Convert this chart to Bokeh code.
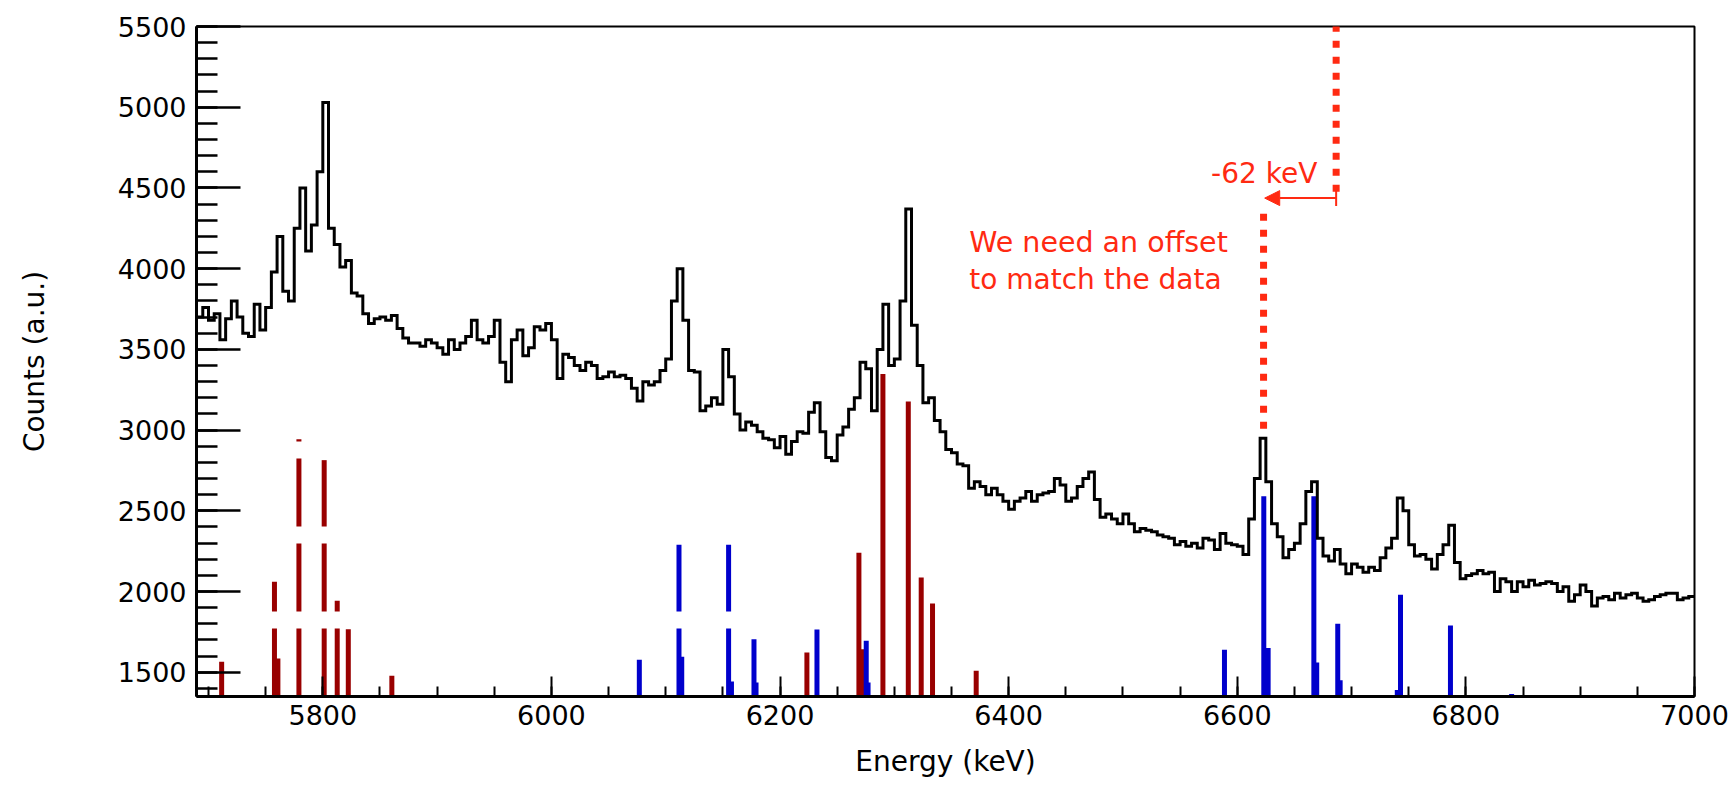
from bokeh.plotting import figure
from bokeh.models import (ColumnDataSource, SingleIntervalTicker, Arrow,
                          NormalHead, TeeHead, Label)
from bokeh.embed import file_html
from bokeh.resources import INLINE

# ---------------- data ----------------
BIN_START = 5690      # keV, first bin edge
BIN_WIDTH = 5         # keV
counts = [
    3700, 3760, 3680, 3720, 3560, 3690, 3800, 3700, 3600, 3580,
    3780, 3620, 3760, 3980, 4200, 3860, 3800, 4250, 4500, 4110,
    4270, 4600, 5030, 4250, 4150, 4010, 4050, 3850, 3830, 3720,
    3660, 3690, 3700, 3680, 3710, 3630, 3570, 3540, 3540, 3520,
    3560, 3540, 3510, 3470, 3560, 3500, 3540, 3580, 3680, 3560,
    3540, 3580, 3680, 3420, 3300, 3560, 3620, 3460, 3510, 3640,
    3620, 3660, 3560, 3320, 3470, 3450, 3400,
    3370, 3420, 3400, 3320, 3330, 3360, 3330, 3340, 3320, 3260,
    3180, 3300, 3280, 3300, 3370, 3440, 3800, 4000, 3680, 3370,
    3360, 3120, 3150, 3200, 3160, 3500, 3330, 3100, 3000, 3050,
    3030, 2990, 2950, 2940, 2890, 2960, 2850, 2930, 2990, 2980,
    3110, 3170, 2990, 2830, 2810, 2970, 3020, 3130, 3200, 3420,
    3380, 3120, 3500, 3780, 3400, 3440, 3800, 4370, 3650, 3400,
    3170, 3200, 3060, 2990,
    2880, 2860, 2790, 2780, 2640, 2680, 2650, 2600, 2640, 2600,
    2560, 2510, 2560, 2580, 2620, 2560, 2600, 2610, 2620, 2700,
    2660, 2560, 2580, 2650, 2700, 2740, 2570, 2460, 2480, 2450,
    2420, 2480, 2420, 2370, 2390, 2380, 2370, 2350, 2340, 2330,
    2290, 2310, 2280, 2300, 2270, 2330, 2320, 2260, 2360, 2300,
    2290, 2280, 2230, 2450, 2700, 2950, 2680, 2420, 2340, 2210,
    2260, 2300, 2420, 2620, 2680, 2330,
    2220, 2190, 2260, 2170, 2110, 2170, 2150, 2120, 2150, 2130,
    2210, 2270, 2330, 2580, 2500, 2290, 2220, 2230, 2200, 2140,
    2230, 2290, 2410, 2180, 2080, 2100, 2110, 2130, 2110, 2120,
    2000, 2080, 2060, 2000, 2060, 2030, 2070, 2040, 2050, 2060,
    2050, 2000, 2030, 1940, 1980, 2040, 2000, 1910, 1960, 1970,
    1950, 1990, 1960, 1980, 1990, 1960, 1940, 1950, 1970, 1980,
    1990, 1990, 1950, 1960, 1970,
]

# simulated lines (red: one nucleus, blue: the other)
red_dashed_energy = [5711.5, 5757.7, 5760.7, 5779.1, 5801.2, 5812.6, 5822.3, 5860.4]
red_dashed_height = [1565, 2060, 1585, 2944, 2814, 1943, 1767, 1478]
red_solid_energy = [6223.5, 6269.0, 6271.5, 6290.0, 6312.2, 6323.5, 6333.4, 6371.6]
red_solid_height = [1623, 2240, 1643, 3347, 3177, 2087, 1926, 1509]
blue_dashed_energy = [6111.6, 6155.0]
blue_dashed_height = [2290, 2290]
blue_solid_energy = [6076.9, 6114.0, 6157.5, 6177.2, 6179.0, 6232.3, 6275.4, 6277.0,
                     6588.8, 6623.2, 6627.0, 6667.0, 6669.5, 6687.9, 6690.0, 6742.8,
                     6740.0, 6786.5, 6840.0]
blue_solid_height = [1577, 1596, 1443, 1705, 1437, 1765, 1695, 1437,
                     1640, 2590, 1650, 2590, 1560, 1800, 1450, 1980,
                     1390, 1790, 1365]

x_tick_labels = ["5800", "6000", "6200", "6400", "6600", "6800", "7000"]
y_tick_labels = ["1500", "2000", "2500", "3000", "3500", "4000", "4500", "5000", "5500"]

X_MIN, X_MAX = 5689.5, 7000
Y_MIN, Y_MAX = 1350, 5500

SIM_ENERGY = 6686.5      # simulated line position
DATA_ENERGY = 6623.0     # measured peak position
OFFSET_LABEL = "-62 keV"

FONT = "DejaVu Sans"
RED_TXT = "#FF2A12"
RED_BAR = "#990000"
BLUE_BAR = "#0000CC"

# ---------------- figure ----------------
p = figure(width=1731, height=785, x_range=(X_MIN, X_MAX), y_range=(Y_MIN, Y_MAX),
           output_backend="svg", toolbar_location=None,
           min_border_left=196, min_border_right=37, min_border_top=26,
           min_border_bottom=89, background_fill_color="white",
           border_fill_color="white")
p.xgrid.visible = False
p.ygrid.visible = False
p.outline_line_color = "black"
p.outline_line_width = 2

# axes
xa = p.xaxis[0]
xa.ticker = SingleIntervalTicker(interval=200, num_minor_ticks=4)
xa.major_label_overrides = {int(t): t for t in x_tick_labels}
xa.axis_line_width = 3
xa.axis_line_color = "black"
xa.major_tick_in = 20
xa.major_tick_out = 0
xa.minor_tick_in = 10
xa.minor_tick_out = 0
xa.major_tick_line_width = 2
xa.minor_tick_line_width = 2
xa.major_tick_line_color = "black"
xa.minor_tick_line_color = "black"
xa.major_label_text_font = FONT
xa.major_label_text_font_size = "27px"
xa.major_label_text_color = "black"
xa.major_label_standoff = 8
xa.axis_label = "Energy (keV)"
xa.axis_label_text_font = FONT
xa.axis_label_text_font_size = "28px"
xa.axis_label_text_font_style = "normal"
xa.axis_label_text_color = "black"
xa.axis_label_standoff = 17

ya = p.yaxis[0]
ya.ticker = SingleIntervalTicker(interval=500, num_minor_ticks=5)
ya.major_label_overrides = {int(t): t for t in y_tick_labels}
ya.axis_line_width = 3
ya.axis_line_color = "black"
ya.major_tick_in = 44
ya.major_tick_out = 0
ya.minor_tick_in = 21
ya.minor_tick_out = 0
ya.major_tick_line_width = 2.5
ya.minor_tick_line_width = 2.5
ya.major_tick_line_color = "black"
ya.minor_tick_line_color = "black"
ya.major_label_text_font = FONT
ya.major_label_text_font_size = "27px"
ya.major_label_text_color = "black"
ya.major_label_standoff = 10
ya.axis_label = "Counts (a.u.)"
ya.axis_label_text_font = FONT
ya.axis_label_text_font_size = "28px"
ya.axis_label_text_font_style = "normal"
ya.axis_label_text_color = "black"
ya.axis_label_standoff = 64

# simulated lines as vertical bars from the bottom of the frame
def bars(energy, height, color, dash):
    src = ColumnDataSource(dict(x=energy, y0=[Y_MIN] * len(energy), y1=height))
    p.segment(x0="x", y0="y0", x1="x", y1="y1", source=src, line_color=color,
              line_width=5, line_cap="butt", line_dash=dash)

bars(red_dashed_energy, red_dashed_height, RED_BAR, "68 17")
bars(red_solid_energy, red_solid_height, RED_BAR, "solid")
bars(blue_dashed_energy, blue_dashed_height, BLUE_BAR, "68 17")
bars(blue_solid_energy, blue_solid_height, BLUE_BAR, "solid")

# measured spectrum as a histogram
edges = [BIN_START + BIN_WIDTH * i for i in range(len(counts) + 1)]
p.step(x=edges, y=counts + [counts[-1]], mode="after", line_color="black",
       line_width=3, line_join="miter")

# annotation: dotted lines, arrow and texts
p.add_layout(Arrow(x_start=SIM_ENERGY, y_start=5610, x_end=SIM_ENERGY, y_end=4465,
                   start=None, end=None, line_color=RED_TXT, line_width=7,
                   line_dash="7 9"))
p.add_layout(Arrow(x_start=DATA_ENERGY, y_start=4340, x_end=DATA_ENERGY, y_end=2975,
                   start=None, end=None, line_color=RED_TXT, line_width=7,
                   line_dash="7 9"))
p.add_layout(Arrow(x_start=SIM_ENERGY, y_start=4437, x_end=DATA_ENERGY + 1, y_end=4437,
                   start=TeeHead(size=16, line_color=RED_TXT, line_width=2),
                   end=NormalHead(size=15, fill_color=RED_TXT, line_color=RED_TXT),
                   line_color=RED_TXT, line_width=2))
p.add_layout(Label(x=6670, y=4588, text=OFFSET_LABEL, text_align="right",
                   text_baseline="alphabetic", text_color=RED_TXT,
                   text_font=FONT, text_font_size="28px"))
p.add_layout(Label(x=6365.5, y=4160, text="We need an offset", text_align="left",
                   text_baseline="alphabetic", text_color=RED_TXT,
                   text_font=FONT, text_font_size="28.5px"))
p.add_layout(Label(x=6365.5, y=3936, text="to match the data", text_align="left",
                   text_baseline="alphabetic", text_color=RED_TXT,
                   text_font=FONT, text_font_size="28px"))
# slide page number (cut at the bottom edge)
p.add_layout(Label(x=6662, y=897, text="7", text_align="center",
                   text_baseline="top", text_color="black",
                   text_font=FONT, text_font_size="28px"))

open("out.html", "w").write(file_html(p, INLINE))
